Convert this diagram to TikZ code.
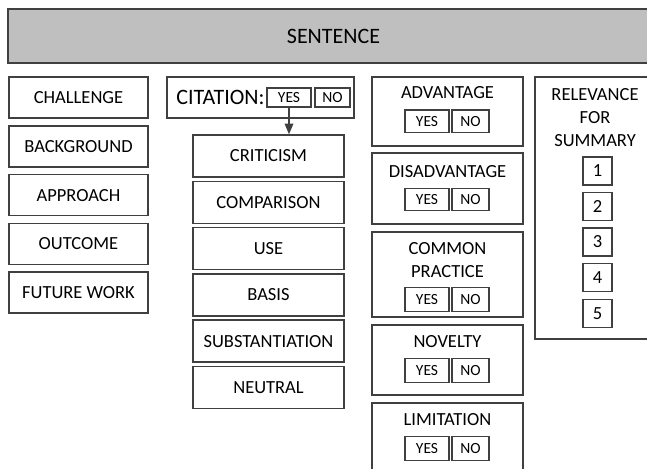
\documentclass[tikz,border=0pt]{standalone}
\usepackage{fontspec}
\setmainfont{Carlito}
\usetikzlibrary{shapes,arrows,positioning}

\definecolor{linegray}{HTML}{404040}
\definecolor{headgray}{HTML}{BFBFBF}
\definecolor{textgray}{HTML}{000000}

\begin{document}
\begin{tikzpicture}[
    x=1pt, y=-1pt,
    node distance=2.8pt,
    every node/.style={text=textgray},
    header/.style={rectangle, draw=linegray, line width=1.5pt, fill=headgray, minimum width=651pt, minimum height=54pt, font=\fontsize{22}{26}\selectfont},
    section/.style={rectangle, draw=linegray, line width=1.5pt, minimum width=139pt, minimum height=41pt, inner sep=0pt, font=\fontsize{18.5}{22}\selectfont},
    citetype/.style={rectangle, draw=linegray, line width=1.5pt, minimum width=151pt, minimum height=42pt, inner sep=0pt, font=\fontsize{18.5}{22}\selectfont},
    aspect/.style={rectangle, draw=linegray, line width=1.5pt, minimum width=151pt, minimum height=70pt, inner sep=0pt},
    title/.style={inner sep=0pt, font=\fontsize{18.5}{23}\selectfont, align=center},
    yesbox/.style={rectangle, draw=linegray, line width=1.5pt, minimum width=44pt, minimum height=22pt, inner sep=0pt, font=\fontsize{15.5}{18}\selectfont},
    nobox/.style={yesbox, minimum width=37pt},
    rank/.style={rectangle, draw=linegray, line width=1.5pt, minimum width=29pt, minimum height=28pt, inner sep=0pt, font=\fontsize{18.5}{22}\selectfont},
    arrow/.style={draw=linegray, line width=1.5pt, ->, >=triangle 45}
]
\useasboundingbox (0,0) rectangle (647,468);
\clip (0,0) rectangle (647,468);

% Header
\node[header] (sentence) at (333.5,36) {SENTENCE};

% Sections - Left Column
\node[section] (challenge) at (78.5,97.5) {CHALLENGE};
\node[section, below=6.3pt of challenge] (background) {BACKGROUND};
\node[section, below=6.3pt of background] (approach) {APPROACH};
\node[section, below=6.3pt of approach] (outcome) {OUTCOME};
\node[section, below=6.3pt of outcome] (future) {FUTURE WORK};

% Citation
\node[rectangle, draw=linegray, line width=1.5pt, minimum width=187pt, minimum height=41pt] (citation) at (260.5,97.5) {};
\node[yesbox, minimum height=19pt] (citeyes) at (289,97.5) {YES};
\node[nobox, minimum width=35pt, minimum height=19pt, right=2.5pt of citeyes] (citeno) {NO};
\node[inner sep=0pt, anchor=east, font=\fontsize{22}{26}\selectfont] (citelabel) at ([xshift=-1.5pt]citeyes.west) {CITATION:};

% Citation Types - Middle Column
\node[citetype] (criticism) at (268.5,156) {CRITICISM};
\node[citetype, below=of criticism] (comparison) {COMPARISON};
\node[citetype, below=of comparison] (use) {USE};
\node[citetype, below=of use] (basis) {BASIS};
\node[citetype, below=of basis] (substantiation) {SUBSTANTIATION};
\node[citetype, below=of substantiation] (neutral) {NEUTRAL};

\draw[arrow] (citeyes) -- (citeyes |- criticism.north);

% Aspects - Right Column
\node[aspect, minimum height=69pt] (advantage) at (447.5,111.5) {};
\node[title] (advtitle) at ([yshift=-16pt]advantage.north) {ADVANTAGE};
\node[yesbox] (advyes) at ([xshift=-20.5pt, yshift=-45pt]advantage.north) {YES};
\node[nobox, right=1.5pt of advyes] (advno) {NO};

\node[aspect, minimum height=71pt, below=5.5pt of advantage] (disadvantage) {};
\node[title] (distitle) at ([yshift=-19pt]disadvantage.north) {DISADVANTAGE};
\node[yesbox] (disyes) at ([xshift=-20.5pt, yshift=-47pt]disadvantage.north) {YES};
\node[nobox, right=1.5pt of disyes] (disno) {NO};

\node[aspect, minimum height=85pt, below=6.5pt of disadvantage] (common) {};
\node[title] (comtitle) at ([yshift=-29pt]common.north) {COMMON\\PRACTICE};
\node[yesbox, minimum height=24pt] (comyes) at ([xshift=-20.5pt, yshift=-68pt]common.north) {YES};
\node[nobox, minimum height=24pt, right=1.5pt of comyes] (comno) {NO};

\node[aspect, below=6.5pt of common] (novelty) {};
\node[title] (novtitle) at ([yshift=-17pt]novelty.north) {NOVELTY};
\node[yesbox, minimum height=24pt] (novyes) at ([xshift=-20.5pt, yshift=-46pt]novelty.north) {YES};
\node[nobox, minimum height=24pt, right=1.5pt of novyes] (novno) {NO};

\node[aspect, below=6.5pt of novelty] (limitation) {};
\node[title] (limtitle) at ([yshift=-17pt]limitation.north) {LIMITATION};
\node[yesbox, minimum height=24pt] (limyes) at ([xshift=-20.5pt, yshift=-46pt]limitation.north) {YES};
\node[nobox, minimum height=24pt, right=1.5pt of limyes] (limno) {NO};

% Relevance - Far Right
\node[rectangle, draw=linegray, line width=1.5pt, minimum width=120pt, minimum height=262pt] (relevance) at (595,208) {};
\node[title] (reltitle) at (595,118) {RELEVANCE\\FOR\\SUMMARY};
\node[rank] (rank1) at (597.5,171) {1};
\node[rank, below=6pt of rank1] (rank2) {2};
\node[rank, below=6pt of rank2] (rank3) {3};
\node[rank, below=6pt of rank3] (rank4) {4};
\node[rank, below=6.5pt of rank4] (rank5) {5};

\end{tikzpicture}
\end{document}
